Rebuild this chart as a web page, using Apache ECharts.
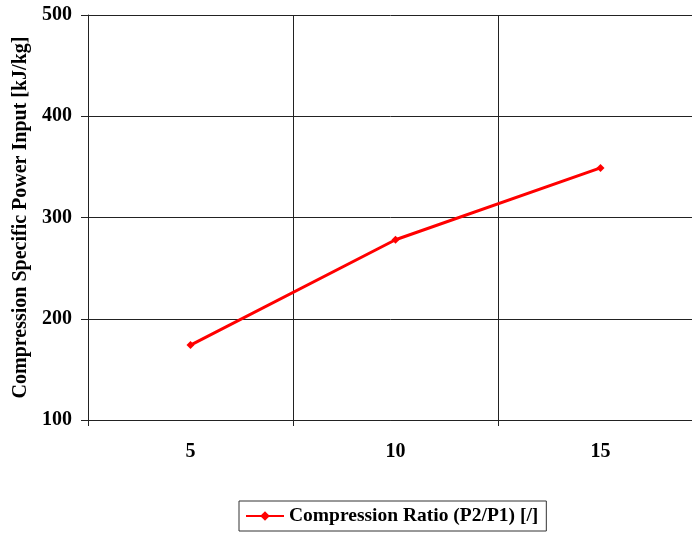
<!DOCTYPE html>
<html>
<head>
<meta charset="utf-8">
<script src="https://cdn.jsdelivr.net/npm/echarts@6/dist/echarts.min.js"></script>
<style>
html, body { margin: 0; padding: 0; background: #fff; }
#main { width: 692px; height: 535px; }
</style>
</head>
<body>
<div id="main"></div>
<script>
// compression ratio categories and power input values
var ratios = ['5', '10', '15'];
var powerInput = [174, 278, 349];
var yTicks = [100, 500, 100]; // min, max, step
var seriesName = 'Compression Ratio (P2/P1) [/]';

var chart = echarts.init(document.getElementById('main'));
var serif = '"Liberation Serif", "Times New Roman", serif';

var option = {
    animation: false,
    backgroundColor: '#fff',
    grid: {
        left: 88,
        top: 15,
        bottom: 115,
        width: 615,
        outerBoundsMode: 'none'
    },
    legend: {
        data: [seriesName],
        left: 239,
        top: 501,
        padding: [5, 8, 5, 6],
        itemWidth: 38,
        itemHeight: 12,
        itemGap: 4,
        borderColor: '#333',
        borderWidth: 1,
        textStyle: {
            fontFamily: serif,
            fontWeight: 'bold',
            fontSize: 19.5,
            color: '#000'
        }
    },
    xAxis: {
        type: 'category',
        data: ratios,
        boundaryGap: true,
        axisLine: { show: true, lineStyle: { color: '#222', width: 1 } },
        axisTick: { show: true, length: 6, interval: 0, lineStyle: { color: '#222' } },
        splitLine: { show: true, interval: 0, lineStyle: { color: '#222', width: 1 } },
        axisLabel: {
            margin: 22,
            fontFamily: serif,
            fontWeight: 'bold',
            fontSize: 20,
            color: '#000'
        }
    },
    yAxis: {
        type: 'value',
        min: yTicks[0],
        max: yTicks[1],
        interval: yTicks[2],
        name: 'Compression Specific Power Input [kJ/kg]',
        nameLocation: 'middle',
        nameRotate: 90,
        nameGap: 56,
        nameTextStyle: {
            fontFamily: serif,
            fontWeight: 'bold',
            fontSize: 20,
            color: '#000'
        },
        axisLine: { show: true, lineStyle: { color: '#222', width: 1 } },
        axisTick: { show: true, length: 7, lineStyle: { color: '#222' } },
        splitLine: { show: true, lineStyle: { color: '#222', width: 1 } },
        axisLabel: {
            margin: 16,
            fontFamily: serif,
            fontWeight: 'bold',
            fontSize: 20,
            color: '#000'
        }
    },
    series: [{
        name: seriesName,
        type: 'line',
        data: powerInput,
        symbol: 'diamond',
        symbolSize: 8,
        itemStyle: { color: '#ff0000' },
        lineStyle: { color: '#ff0000', width: 3 }
    }]
};

chart.setOption(option);
</script>
</body>
</html>
